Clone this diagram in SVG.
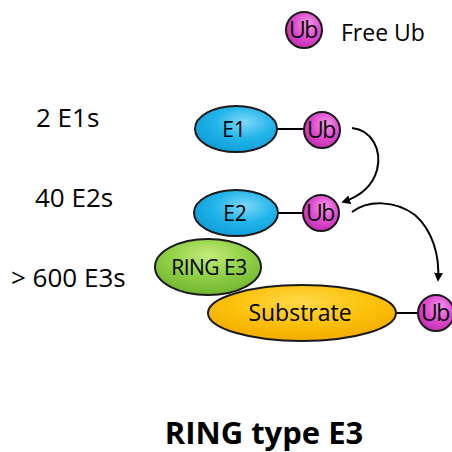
<svg xmlns="http://www.w3.org/2000/svg" width="452" height="452" viewBox="0 0 452 452">
<defs>
<radialGradient id="gBlue" cx="0.6" cy="0.35" r="0.7"><stop offset="0" stop-color="#7fd8f8"/><stop offset="0.5" stop-color="#22b5ea"/><stop offset="1" stop-color="#0e9bd6"/></radialGradient>
<radialGradient id="gUb" cx="0.6" cy="0.35" r="0.7"><stop offset="0" stop-color="#f59ae8"/><stop offset="0.5" stop-color="#e04fd0"/><stop offset="1" stop-color="#c22ab0"/></radialGradient>
<radialGradient id="gGreen" cx="0.5" cy="0.3" r="0.75"><stop offset="0" stop-color="#c4ec7a"/><stop offset="0.5" stop-color="#8fcf45"/><stop offset="1" stop-color="#6cb12e"/></radialGradient>
<radialGradient id="gOrange" cx="0.5" cy="0.3" r="0.75"><stop offset="0" stop-color="#ffd84a"/><stop offset="0.5" stop-color="#fcc10a"/><stop offset="1" stop-color="#f0a800"/></radialGradient>
<marker id="ah" viewBox="0 0 10 10" refX="8" refY="5" markerWidth="9" markerHeight="9" orient="auto-start-reverse" markerUnits="userSpaceOnUse"><path d="M0,0 L10,5 L0,10 z" fill="#000"/></marker>
<style>
.lbl{font-family:"Open Sans","Liberation Sans",sans-serif;fill:#000}
.side{font-size:26px}
.ub{font-size:23px;text-anchor:middle;letter-spacing:-1.5px}
.node{text-anchor:middle}
.edge{fill:none;stroke:#000;stroke-width:2}
.out{stroke:#1a1a1a;stroke-width:2}
</style>
</defs>
<g id="legend">
<circle cx="304" cy="30" r="18" fill="url(#gUb)" class="out"/>
<text x="303" y="38" class="lbl ub">Ub</text>
<text x="341" y="41" class="lbl" font-size="23">Free Ub</text>
</g>
<g id="side-labels">
<text x="36" y="127" class="lbl side">2 E1s</text>
<text x="35" y="207" class="lbl side">40 E2s</text>
<text x="11" y="287" class="lbl side">&gt; 600 E3s</text>
</g>
<g id="connectors">
<line x1="276" y1="129" x2="305" y2="129" class="edge"/>
<line x1="277" y1="213" x2="303" y2="213" class="edge"/>
<line x1="396" y1="313" x2="418" y2="313" class="edge"/>
<path d="M352,128 C372,130 382,150 377,170 C372,188 358,197 343,202" class="edge" marker-end="url(#ah)"/>
<path d="M352,212 C368,200 395,200 415,215 C432,230 440,255 438,280" class="edge" marker-end="url(#ah)"/>
</g>
<g id="E1">
<ellipse cx="236" cy="129" rx="41" ry="23" fill="url(#gBlue)" class="out"/>
<text x="234" y="137" class="lbl node" font-size="21">E1</text>
</g>
<g id="Ub1">
<circle cx="322" cy="130" r="18" fill="url(#gUb)" class="out"/>
<text x="321" y="138" class="lbl ub">Ub</text>
</g>
<g id="RINGE3">
<ellipse cx="208" cy="267" rx="53" ry="28" fill="url(#gGreen)" class="out"/>
<text x="209" y="275" class="lbl node" font-size="21" letter-spacing="-0.5">RING E3</text>
</g>
<g id="E2">
<ellipse cx="236" cy="213" rx="42" ry="23" fill="url(#gBlue)" class="out"/>
<text x="235" y="221" class="lbl node" font-size="21">E2</text>
</g>
<g id="Ub2">
<circle cx="321" cy="213" r="18" fill="url(#gUb)" class="out"/>
<text x="320" y="221" class="lbl ub">Ub</text>
</g>
<g id="Substrate">
<ellipse cx="302" cy="313" rx="94" ry="28" fill="url(#gOrange)" class="out"/>
<text x="300" y="321" class="lbl node" font-size="23">Substrate</text>
</g>
<g id="Ub3">
<circle cx="436" cy="313" r="18" fill="url(#gUb)" class="out"/>
<text x="435" y="321" class="lbl ub">Ub</text>
</g>
<g id="title">
<text x="264" y="444" class="lbl node" font-size="31" font-weight="bold">RING type E3</text>
</g>
</svg>
